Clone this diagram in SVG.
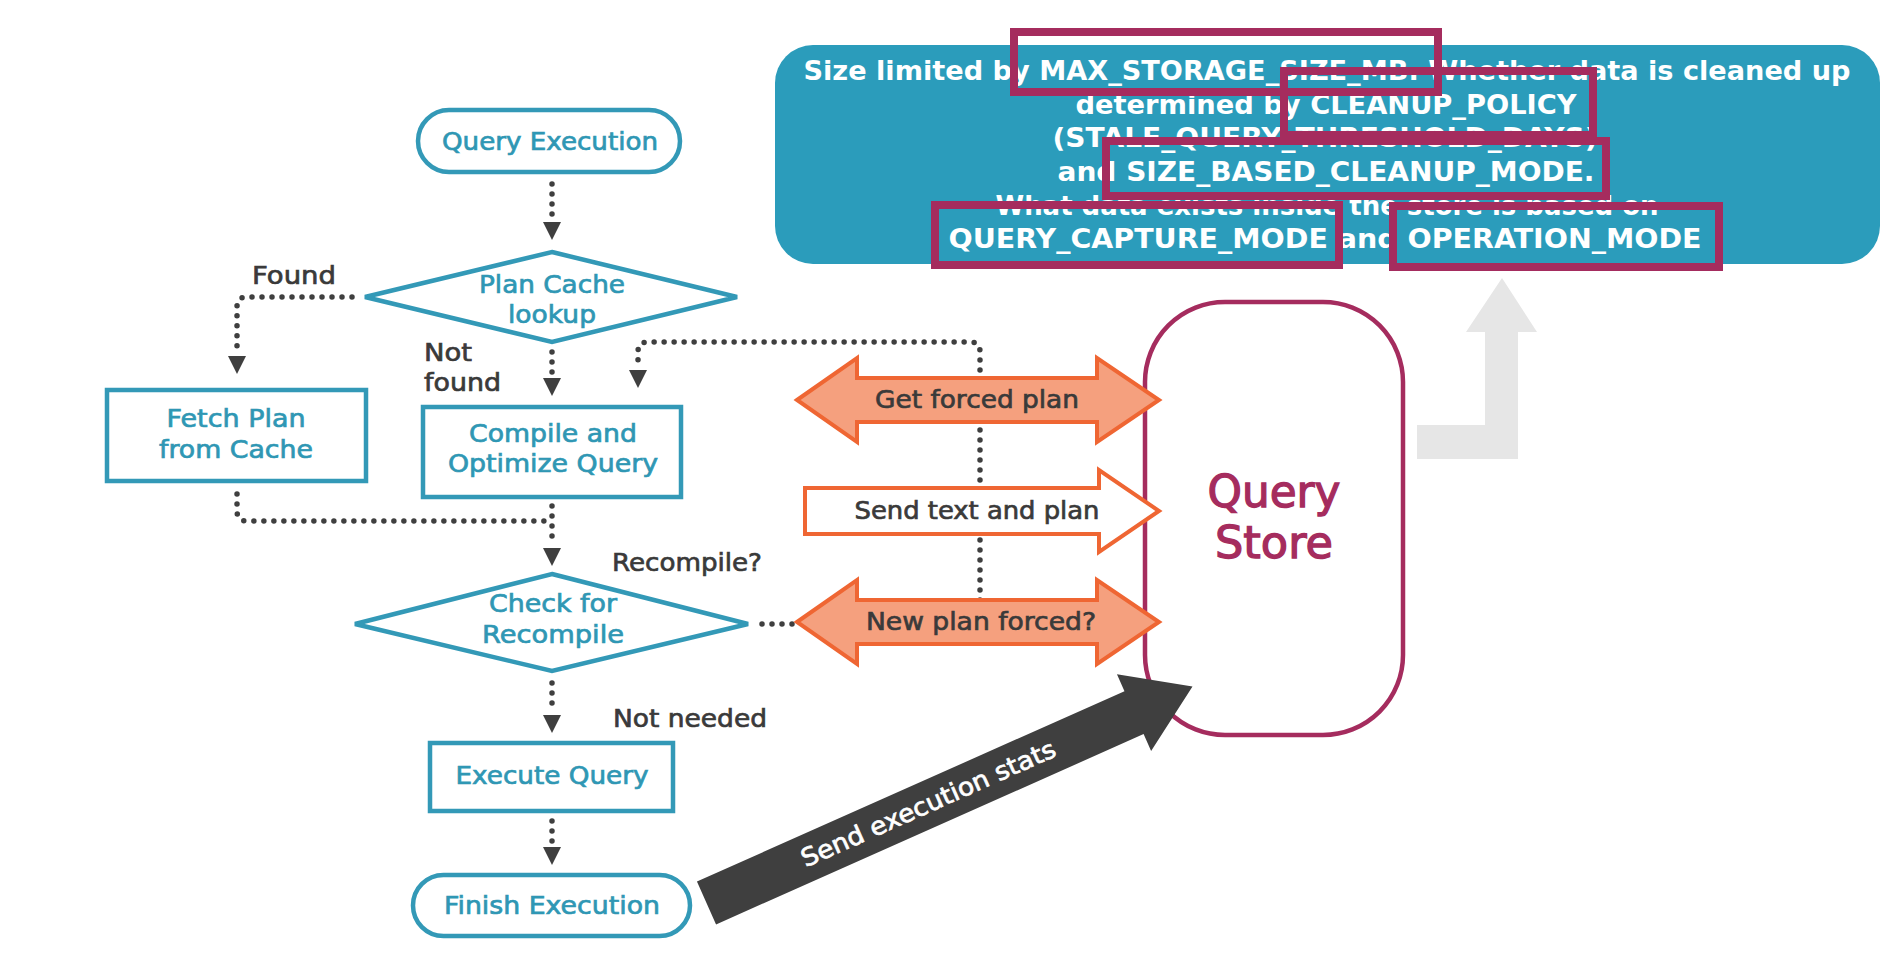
<svg xmlns="http://www.w3.org/2000/svg" xmlns:xlink="http://www.w3.org/1999/xlink" width="1890" height="954" viewBox="0 0 1890 954">
<style>
.lbl{font-family:'DejaVu Sans','Liberation Sans',sans-serif;font-size:25px;stroke-width:0.7px}
.teal{fill:#2F97B4;stroke:#2F97B4}
.dark{fill:#3A3A3A;stroke:#3A3A3A}
.tnode{fill:#fff;stroke:#3399B7;stroke-width:4.5}
.dot{fill:none;stroke:#3F3F3F;stroke-width:5.5;stroke-linecap:round;stroke-dasharray:0 10}
.orange{fill:#F5A07E;stroke:#EF6633;stroke-width:4;stroke-linejoin:miter}
.info{font-family:'DejaVu Sans','Liberation Sans',sans-serif;font-size:27px;font-weight:bold;fill:#fff}
.hl{fill:none;stroke:#A52C5E;stroke-width:8}
.qs{font-family:'DejaVu Sans','Liberation Sans',sans-serif;font-size:44px;fill:#A52C5E;stroke:#A52C5E;stroke-width:1.3px}
</style>
<defs>
<polygon id="ah" points="-9,-18 9,-18 0,0" fill="#3F3F3F"/>
</defs>
<rect width="1890" height="954" fill="#fff"/>

<g id="connectors">
<path class="dot" d="M552,184 V218"/>
<use xlink:href="#ah" x="552" y="240"/>
<path class="dot" d="M352,297 H247 Q237,297 237,307 V352"/>
<use xlink:href="#ah" x="237" y="374"/>
<path class="dot" d="M552,352 V376"/>
<use xlink:href="#ah" x="552" y="396"/>
<path class="dot" d="M980,600 V352 Q980,342 970,342 H648 Q638,342 638,352 V368"/>
<use xlink:href="#ah" x="638" y="388"/>
<path class="dot" d="M237,494 V511 Q237,521 247,521 H552"/>
<path class="dot" d="M552,506 V546"/>
<use xlink:href="#ah" x="552" y="566"/>
<path class="dot" d="M762,624 H794"/>
<path class="dot" d="M552,683 V712"/>
<use xlink:href="#ah" x="552" y="733"/>
<path class="dot" d="M552,821 V846"/>
<use xlink:href="#ah" x="552" y="865"/>
</g>

<g id="info-box">
<rect x="775" y="45" width="1105" height="219" rx="38" fill="#2B9CBB"/>
<text class="info" x="1327" y="80" text-anchor="middle" textLength="1047" lengthAdjust="spacingAndGlyphs">Size limited by MAX_STORAGE_SIZE_MB. Whether data is cleaned up</text>
<text class="info" x="1326" y="114" text-anchor="middle" textLength="501" lengthAdjust="spacingAndGlyphs">determined by CLEANUP_POLICY</text>
<text class="info" x="1325" y="147" text-anchor="middle" textLength="545" lengthAdjust="spacingAndGlyphs">(STALE_QUERY_THRESHOLD_DAYS)</text>
<text class="info" x="1326" y="181" text-anchor="middle" textLength="537" lengthAdjust="spacingAndGlyphs">and SIZE_BASED_CLEANUP_MODE.</text>
<text class="info" x="1327" y="215" text-anchor="middle" textLength="663" lengthAdjust="spacingAndGlyphs">What data exists inside the store is based on</text>
<text class="info" x="1325" y="248" text-anchor="middle" textLength="753" lengthAdjust="spacingAndGlyphs">QUERY_CAPTURE_MODE and OPERATION_MODE</text>
<rect class="hl" x="1014" y="32" width="424" height="60"/>
<rect class="hl" x="1284" y="71" width="309" height="64"/>
<rect class="hl" x="1106" y="141" width="500" height="55"/>
<rect class="hl" x="935" y="205" width="404" height="60"/>
<rect class="hl" x="1393" y="206" width="326" height="61"/>
</g>

<g id="gray-arrow">
<path d="M1502,278 L1537,332 L1518,332 L1518,459 L1417,459 L1417,425 L1485,425 L1485,332 L1466,332 Z" fill="#E6E6E6"/>
</g>

<g id="query-execution">
<rect class="tnode" x="418" y="110" width="262" height="62" rx="31"/>
<text class="lbl teal" x="550" y="150" text-anchor="middle" textLength="216" lengthAdjust="spacingAndGlyphs">Query Execution</text>
</g>

<g id="plan-cache-lookup">
<polygon class="tnode" points="552,252 737,297 552,342 365,297"/>
<text class="lbl teal" x="552" y="293" text-anchor="middle" textLength="146" lengthAdjust="spacingAndGlyphs">Plan Cache</text>
<text class="lbl teal" x="552" y="323" text-anchor="middle" textLength="88" lengthAdjust="spacingAndGlyphs">lookup</text>
</g>

<g id="label-found">
<text class="lbl dark" x="252" y="284" textLength="84" lengthAdjust="spacingAndGlyphs">Found</text>
</g>
<g id="label-not-found">
<text class="lbl dark" x="424" y="361" textLength="48" lengthAdjust="spacingAndGlyphs">Not</text>
<text class="lbl dark" x="424" y="391" textLength="77" lengthAdjust="spacingAndGlyphs">found</text>
</g>

<g id="fetch-plan">
<rect class="tnode" x="107" y="390" width="259" height="91"/>
<text class="lbl teal" x="236" y="427" text-anchor="middle" textLength="139" lengthAdjust="spacingAndGlyphs">Fetch Plan</text>
<text class="lbl teal" x="236" y="458" text-anchor="middle" textLength="154" lengthAdjust="spacingAndGlyphs">from Cache</text>
</g>

<g id="compile-optimize">
<rect class="tnode" x="423" y="407" width="258" height="90"/>
<text class="lbl teal" x="553" y="442" text-anchor="middle" textLength="168" lengthAdjust="spacingAndGlyphs">Compile and</text>
<text class="lbl teal" x="553" y="472" text-anchor="middle" textLength="210" lengthAdjust="spacingAndGlyphs">Optimize Query</text>
</g>

<g id="label-recompile">
<text class="lbl dark" x="612" y="571" textLength="150" lengthAdjust="spacingAndGlyphs">Recompile?</text>
</g>

<g id="check-recompile">
<polygon class="tnode" points="552,574 748,624 552,671 355,624"/>
<text class="lbl teal" x="553" y="612" text-anchor="middle" textLength="128" lengthAdjust="spacingAndGlyphs">Check for</text>
<text class="lbl teal" x="553" y="643" text-anchor="middle" textLength="142" lengthAdjust="spacingAndGlyphs">Recompile</text>
</g>

<g id="label-not-needed">
<text class="lbl dark" x="613" y="727" textLength="154" lengthAdjust="spacingAndGlyphs">Not needed</text>
</g>

<g id="execute-query">
<rect class="tnode" x="430" y="743" width="243" height="68"/>
<text class="lbl teal" x="552" y="784" text-anchor="middle" textLength="193" lengthAdjust="spacingAndGlyphs">Execute Query</text>
</g>

<g id="finish-execution">
<rect class="tnode" x="413" y="875" width="277" height="61" rx="30.5"/>
<text class="lbl teal" x="552" y="914" text-anchor="middle" textLength="216" lengthAdjust="spacingAndGlyphs">Finish Execution</text>
</g>

<g id="query-store">
<rect x="1145" y="302" width="258" height="433" rx="80" fill="#fff" stroke="#A52C5E" stroke-width="4.5"/>
<text class="qs" x="1274" y="507" text-anchor="middle" textLength="133" lengthAdjust="spacingAndGlyphs">Query</text>
<text class="qs" x="1274" y="558" text-anchor="middle" textLength="118" lengthAdjust="spacingAndGlyphs">Store</text>
</g>

<g id="get-forced-plan">
<path class="orange" d="M797,400 L857,358 L857,378 L1097,378 L1097,358 L1159,400 L1097,442 L1097,422 L857,422 L857,442 Z"/>
<text class="lbl dark" x="977" y="408" text-anchor="middle" textLength="204" lengthAdjust="spacingAndGlyphs">Get forced plan</text>
</g>

<g id="send-text-plan">
<path d="M805,488 L1099,488 L1099,470 L1159,511 L1099,552 L1099,534 L805,534 Z" fill="#fff" stroke="#EF6633" stroke-width="4"/>
<text class="lbl dark" x="977" y="519" text-anchor="middle" textLength="245" lengthAdjust="spacingAndGlyphs">Send text and plan</text>
</g>

<g id="new-plan-forced">
<path class="orange" d="M797,622 L857,580 L857,600 L1097,600 L1097,580 L1159,622 L1097,664 L1097,644 L857,644 L857,664 Z"/>
<text class="lbl dark" x="981" y="630" text-anchor="middle" textLength="230" lengthAdjust="spacingAndGlyphs">New plan forced?</text>
</g>

<g id="send-execution-stats" transform="translate(706.5,903) rotate(-24)">
<path d="M0,-23.5 L468,-23.5 L468,-42 L532,0 L468,42 L468,23.5 L0,23.5 Z" fill="#3F3F3F"/>
<text class="lbl" x="243" y="8" text-anchor="middle" fill="#fff" stroke="#fff" textLength="276" lengthAdjust="spacingAndGlyphs">Send execution stats</text>
</g>
</svg>
